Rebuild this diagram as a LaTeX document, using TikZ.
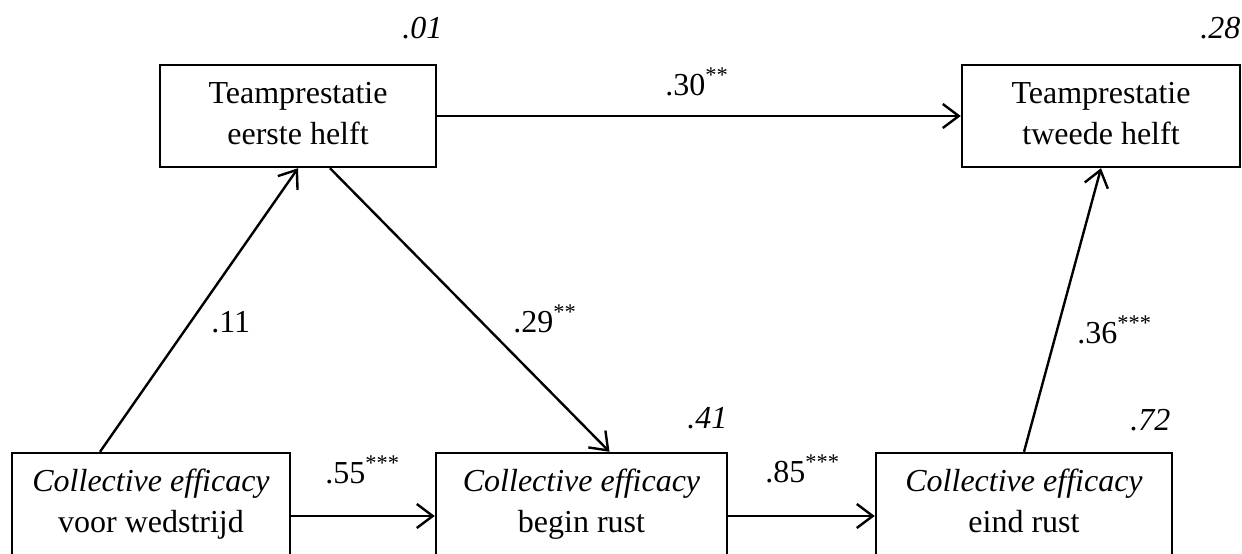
\documentclass[tikz,border=0pt]{standalone}
\usepackage{fontspec}
\setmainfont{Liberation Serif}
\usetikzlibrary{arrows.meta}
\begin{document}
\begin{tikzpicture}[x=0.5pt,y=-0.5pt,
  box/.style={draw,line width=1.2pt,inner sep=0pt,align=center,minimum height=51pt,
    font=\fontsize{16}{20.5}\selectfont},
  arr/.style={line width=1.2pt,-{Straight Barb[length=8pt,width=12pt,line width=1.2pt]}},
  lab/.style={anchor=base west,inner sep=0pt,font=\fontsize{16}{19}\selectfont},
  rsq/.style={anchor=base west,inner sep=0pt,font=\fontsize{16}{19}\selectfont\itshape}]
\useasboundingbox (0,0) rectangle (1242,553);
\clip (0,0) rectangle (1242,553);
\node[box,minimum width=138pt] (A) at (298,116) {\strut Teamprestatie\\eerste helft\strut};
\node[box,minimum width=139pt] (B) at (1101,116) {\strut Teamprestatie\\tweede helft\strut};
\node[box,minimum width=139pt] (C) at (151,504) {\strut\textit{Collective efficacy}\\voor wedstrijd\strut};
\node[box,minimum width=145.5pt] (D) at (581.5,504) {\strut\textit{Collective efficacy}\\begin rust\strut};
\node[box,minimum width=148pt] (E) at (1024,504) {\strut\textit{Collective efficacy}\\eind rust\strut};
\draw[arr] (A.east) -- (B.west);
\draw[arr] ([xshift=-25.5pt]C.north) -- (A.south);
\draw[arr] ([xshift=16pt]A.south) -- ([xshift=14pt]D.north);
\draw[arr] ([yshift=-6pt]C.east) -- ([yshift=-6pt]D.west);
\draw[arr] ([yshift=-6pt]D.east) -- ([yshift=-6pt]E.west);
\draw[arr] (E.north) -- (B.south);
\node[lab] (l30) at (665,95) {.30\textsuperscript{**}};
\node[lab] (l11) at (211,332) {.11};
\node[lab] (l29) at (513,332) {.29\textsuperscript{**}};
\node[lab] (l55) at (325,483) {.55\textsuperscript{***}};
\node[lab] (l85) at (765,482) {.85\textsuperscript{***}};
\node[lab] (l36) at (1077,343) {.36\textsuperscript{***}};
\node[rsq] (r01) at (402,38) {.01};
\node[rsq] (r28) at (1200,38) {.28};
\node[rsq] (r41) at (687,428) {.41};
\node[rsq] (r72) at (1130,430) {.72};
\end{tikzpicture}
\end{document}
